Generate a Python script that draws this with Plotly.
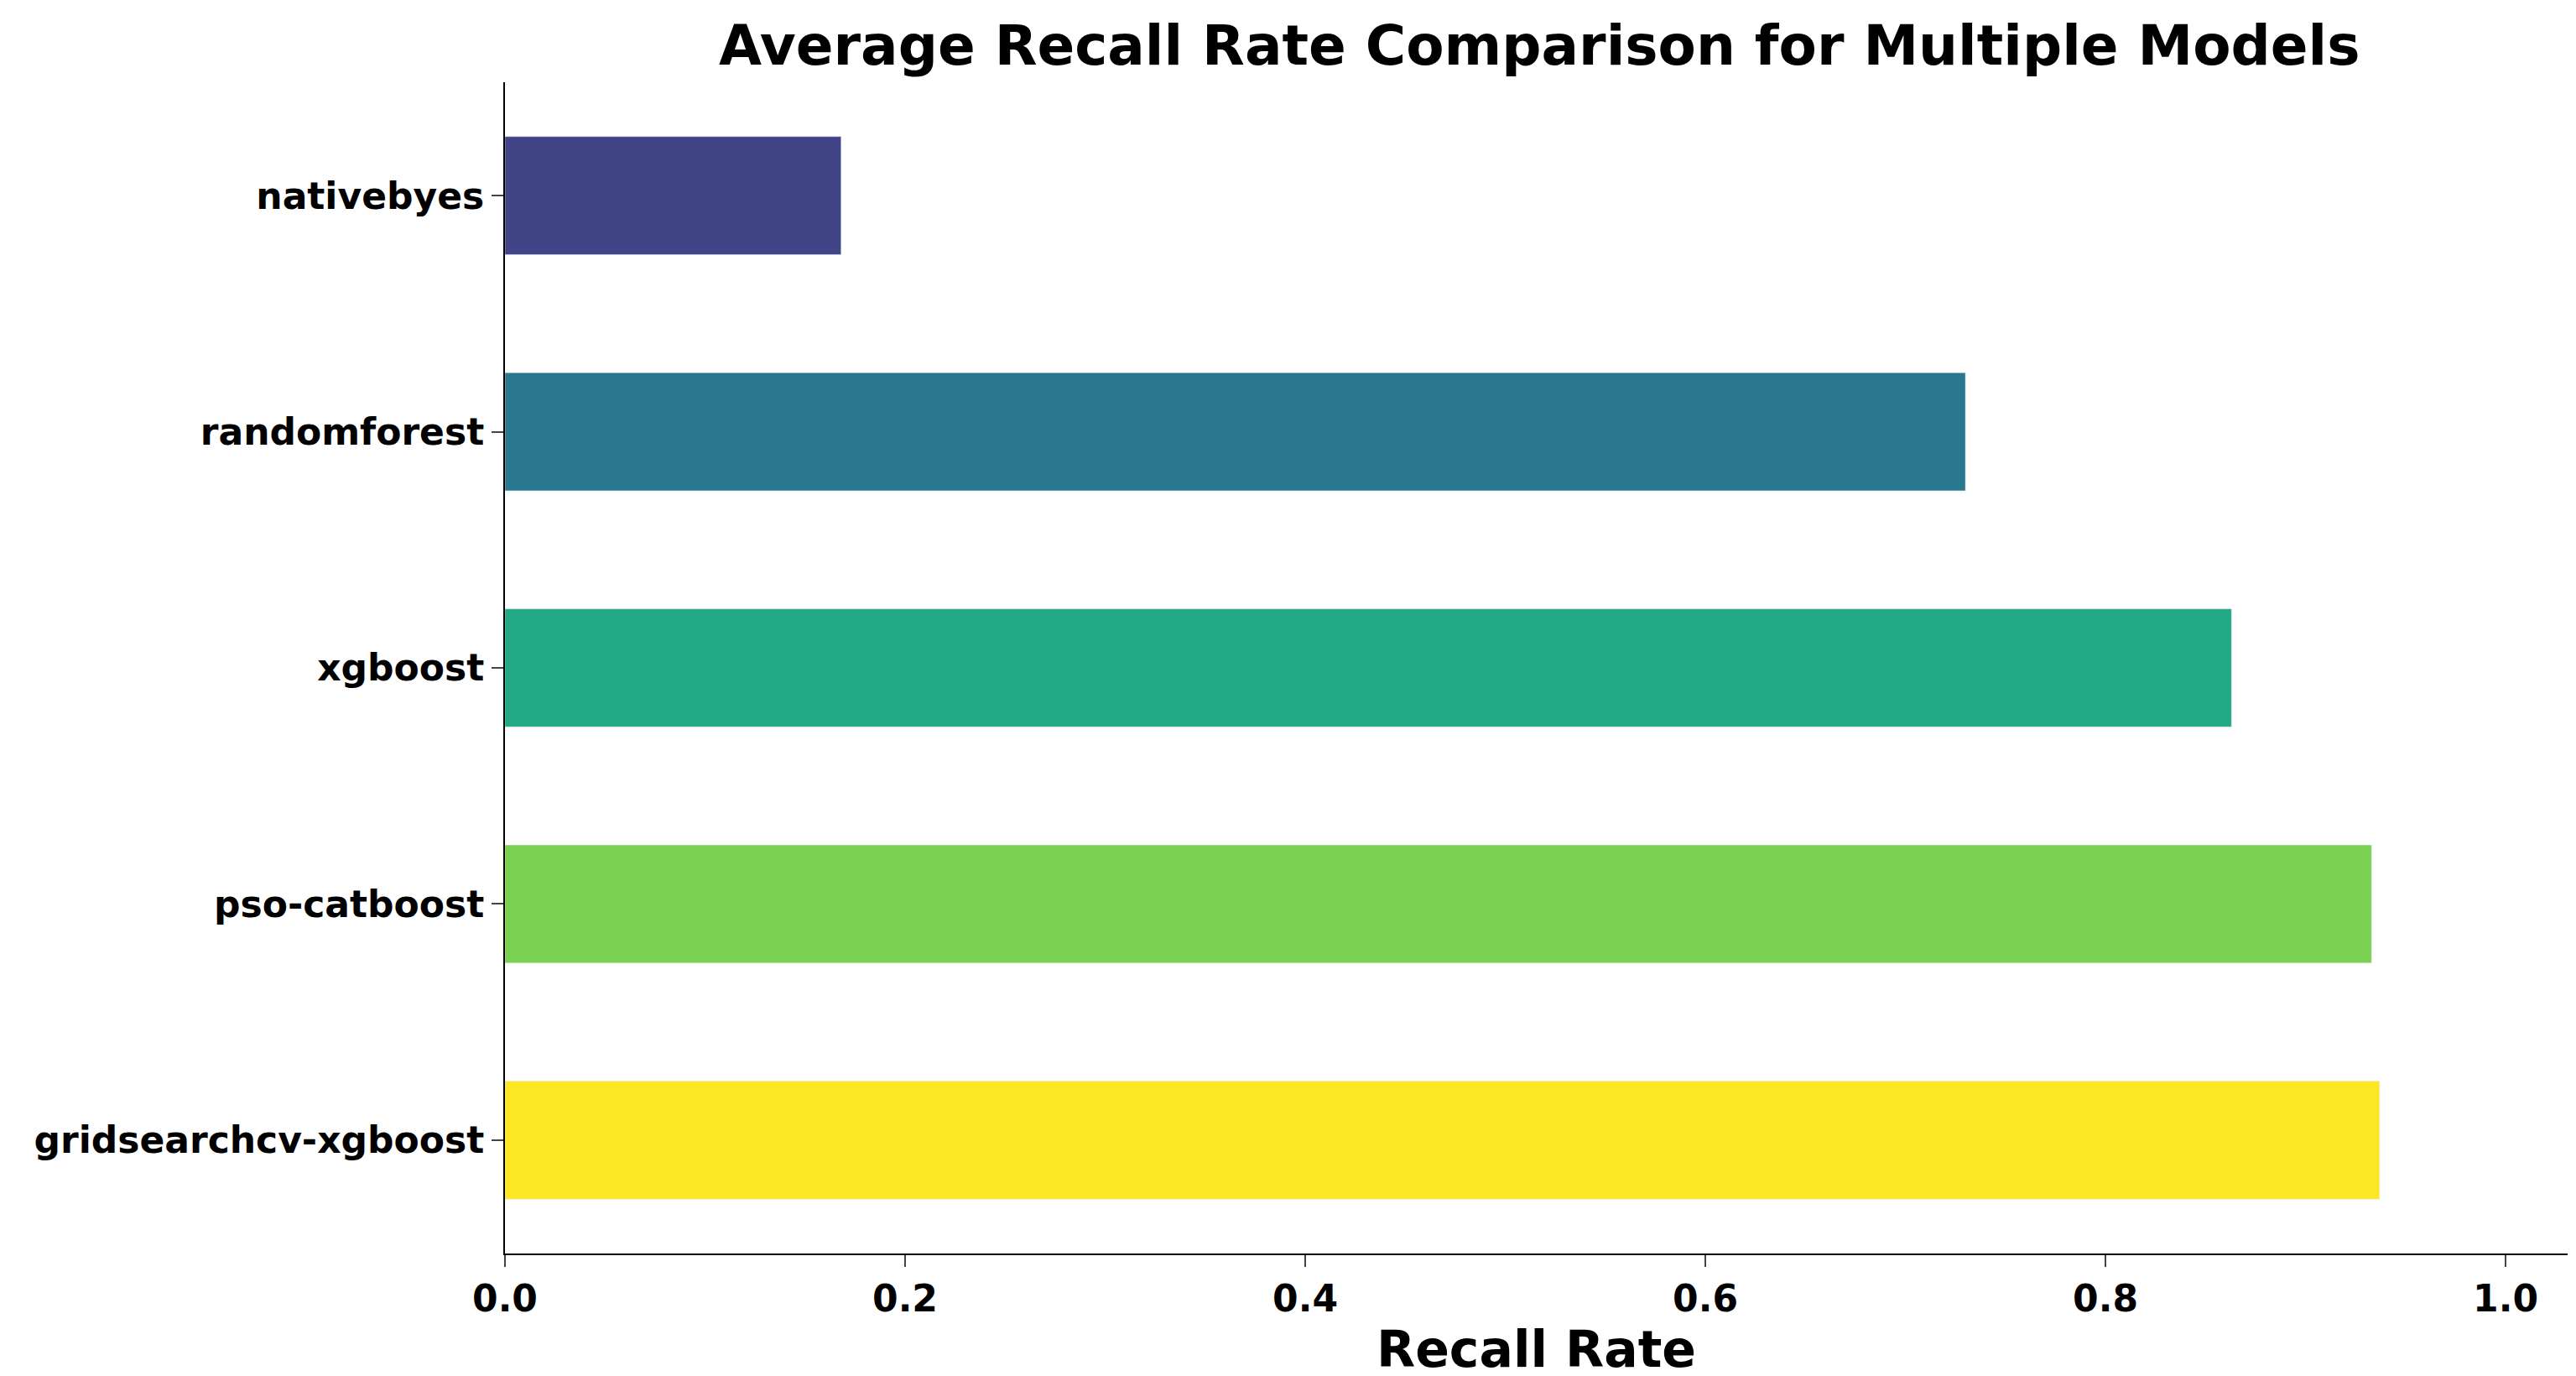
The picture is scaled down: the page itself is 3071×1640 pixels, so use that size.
import plotly.graph_objects as go

models = ["gridsearchcv-xgboost", "pso-catboost", "xgboost", "randomforest", "nativebyes"]
recall = [0.937, 0.933, 0.863, 0.730, 0.168]
colors = ["#fde725", "#7ad151", "#22a884", "#2a788e", "#414487"]
xticks = [0.0, 0.2, 0.4, 0.6, 0.8, 1.0]

fig = go.Figure(go.Bar(x=recall, y=models, orientation="h", marker_color=colors, width=0.5))
fig.update_layout(
    width=3071, height=1640, plot_bgcolor="white", paper_bgcolor="white",
    margin=dict(l=594, r=18, t=90, b=154),
    font=dict(family="DejaVu Sans", color="black"),
    title=dict(text="<b>Average Recall Rate Comparison for Multiple Models</b>",
               x=0.595, xanchor="center", y=0.972, yanchor="middle", font=dict(size=66)),
    showlegend=False,
)
fig.update_xaxes(range=[0, 1.031], tickvals=xticks, ticktext=[f"<b>{v:.1f}</b>" for v in xticks],
                 tickfont=dict(size=44), ticks="outside", ticklen=14, tickwidth=2,
                 showline=True, linecolor="black", linewidth=2, showgrid=False, zeroline=False,
                 title=dict(text="<b>Recall Rate</b>", font=dict(size=60), standoff=8))
fig.update_yaxes(range=[-0.48, 4.48], tickvals=models, ticktext=[f"<b>{m}</b>" for m in models],
                 tickfont=dict(size=44), ticks="outside", ticklen=14, tickwidth=2,
                 showline=True, linecolor="black", linewidth=2, showgrid=False)
fig.write_html("out.html")
